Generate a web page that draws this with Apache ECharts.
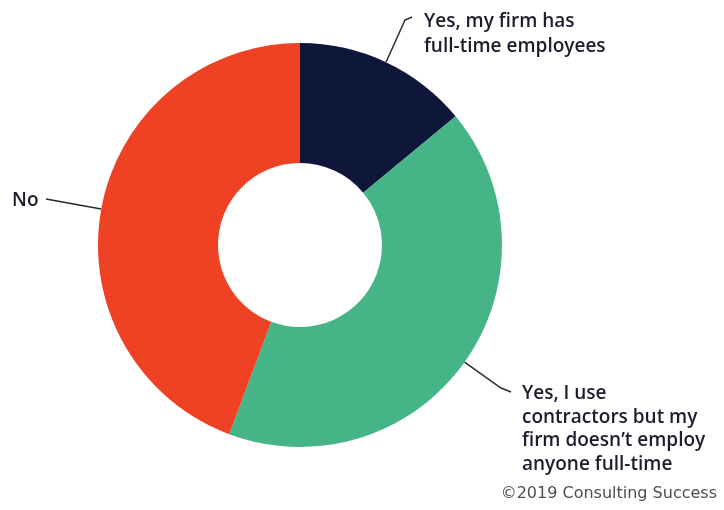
<!DOCTYPE html>
<html>
<head>
<meta charset="utf-8">
<script src="https://cdn.jsdelivr.net/npm/echarts@6/dist/echarts.min.js"></script>
<style>
  html, body { margin: 0; padding: 0; background: #fff; }
  #chart { width: 724px; height: 510px; }
</style>
</head>
<body>
<div id="chart"></div>
<script>
// Survey answers: does the firm have full-time staff?
const categories = [
  'Yes, my firm has\nfull-time employees',
  'Yes, I use\ncontractors but my\nfirm doesn\u2019t employ\nanyone full-time',
  'No'
];
const shares = [14, 41.7, 44.3];
const sliceColors = ['#0e1639', '#45b487', '#ef4123'];
const credit = '\u00a92019 Consulting Success';

// Where each callout's text sits and how its leader bends toward it
const callouts = [
  { x: 424, y: 34, lineHeight: 25, bend: [[405, 20], [412, 17]] },
  { x: 522, y: 429, lineHeight: 23.5, bend: [[501, 388], [511, 392]] },
  { x: 12, y: 201, lineHeight: 22, bend: [[46, 199]] }
];

const chart = echarts.init(document.getElementById('chart'), null, { renderer: 'canvas' });

chart.setOption({
  animation: false,
  title: {
    text: credit,
    right: 2,
    bottom: 3,
    textStyle: {
      fontFamily: 'DejaVu Sans',
      fontSize: 16,
      fontWeight: 'normal',
      color: '#4d4d4d'
    }
  },
  series: [{
    type: 'pie',
    center: [300, 245],
    radius: [82, 202],
    startAngle: 90,
    clockwise: true,
    avoidLabelOverlap: false,
    data: categories.map((name, i) => ({
      name,
      value: shares[i],
      itemStyle: { color: sliceColors[i] },
      label: { lineHeight: callouts[i].lineHeight }
    })),
    label: {
      show: true,
      position: 'outside',
      formatter: '{b}',
      fontFamily: 'Open Sans',
      fontSize: 19,
      fontWeight: 600,
      color: '#1c1c2e'
    },
    labelLine: {
      show: true,
      lineStyle: { color: '#2a2a2a', width: 1.5 }
    },
    labelLayout: function (params) {
      const c = callouts[params.dataIndex];
      const start = params.labelLinePoints ? params.labelLinePoints[0] : null;
      const out = {
        x: c.x,
        y: c.y,
        align: 'left',
        verticalAlign: 'middle'
      };
      if (start) {
        out.labelLinePoints = [start].concat(c.bend);
      }
      return out;
    },
    emphasis: { disabled: true }
  }]
});
</script>
</body>
</html>
